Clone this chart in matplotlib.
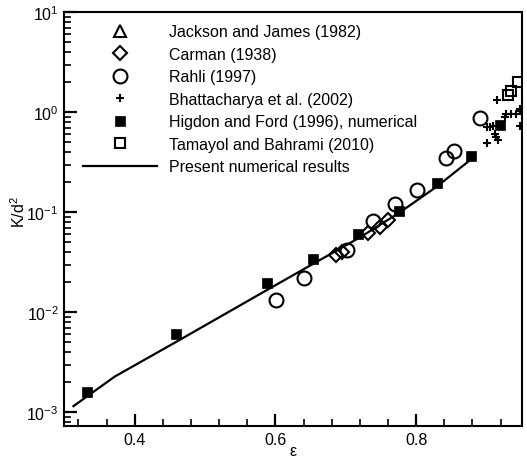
import numpy as np
import matplotlib
matplotlib.use('Agg')
import matplotlib.pyplot as plt
from matplotlib.ticker import LogLocator, MultipleLocator, NullFormatter

plt.rcParams['font.family'] = ['Liberation Sans', 'DejaVu Sans']
plt.rcParams['mathtext.fontset'] = 'custom'
plt.rcParams['mathtext.rm'] = 'Liberation Sans'
plt.rcParams['mathtext.it'] = 'Liberation Sans:italic'
plt.rcParams['mathtext.default'] = 'regular'

# Jackson and James (1982) - no visible points
jackson_eps = []
jackson_k = []

# Carman (1938)
carman_eps = [0.686, 0.694, 0.731, 0.748, 0.760]
carman_k = [0.037, 0.040, 0.062, 0.072, 0.083]

# Rahli (1997)
rahli_eps = [0.601, 0.641, 0.702, 0.739, 0.770, 0.801, 0.843, 0.854, 0.891]
rahli_k = [0.0134, 0.0221, 0.042, 0.082, 0.120, 0.168, 0.352, 0.41, 0.88]

# Bhattacharya et al. (2002)
bhat_eps = [0.9154, 0.928, 0.935, 0.9425, 0.948, 0.948, 0.926,
            0.901, 0.905, 0.909, 0.948, 0.9125, 0.914, 0.901, 0.9164]
bhat_k = [1.32, 0.96, 0.96, 0.96, 1.09, 1.03, 0.89,
          0.71, 0.71, 0.73, 0.73, 0.60, 0.56, 0.49, 0.53]

# Higdon and Ford (1996), numerical
higdon_eps = [0.332, 0.459, 0.5885, 0.6535, 0.7177, 0.776, 0.8298, 0.8784, 0.9195]
higdon_k = [0.00161, 0.0060, 0.0195, 0.0337, 0.060, 0.103, 0.198, 0.366, 0.741]

# Tamayol and Bahrami (2010)
tamayol_eps = [0.945, 0.935, 0.931]
tamayol_k = [2.02, 1.62, 1.48]

# Present numerical results
present_eps = [0.313, 0.372, 0.46, 0.59, 0.65, 0.72, 0.776, 0.83, 0.876]
present_k = [0.00115, 0.00228, 0.0051, 0.0170, 0.0295, 0.056, 0.099, 0.182, 0.33]

fig = plt.figure(figsize=(5.27, 4.64), dpi=100)
ax = fig.add_axes([0.122, 0.0787, 0.868, 0.8926])

mew = 1.5
ax.plot(jackson_eps, jackson_k, '^', ms=9, mfc='none', mec='black', mew=mew,
        label='Jackson and James (1982)')
ax.plot(carman_eps, carman_k, 'D', ms=7.5, mfc='none', mec='black', mew=mew,
        label='Carman (1938)')
ax.plot(rahli_eps, rahli_k, 'o', ms=10, mfc='none', mec='black', mew=mew,
        label='Rahli (1997)')
ax.plot(bhat_eps, bhat_k, '+', ms=6, mec='black', mew=mew,
        label='Bhattacharya et al. (2002)')
ax.plot(higdon_eps, higdon_k, 's', ms=7.5, mfc='black', mec='black', mew=0.5,
        label='Higdon and Ford (1996), numerical')
ax.plot(tamayol_eps, tamayol_k, 's', ms=7.5, mfc='none', mec='black', mew=mew,
        label='Tamayol and Bahrami (2010)')
ax.plot(present_eps, present_k, '-', color='black', lw=1.6,
        label='Present numerical results')

ax.set_yscale('log')
ax.set_xlim(0.3, 0.95)
ax.set_ylim(7.2e-4, 10)

ax.xaxis.set_major_locator(MultipleLocator(0.2))
ax.xaxis.set_minor_locator(MultipleLocator(0.04))
ax.yaxis.set_major_locator(LogLocator(base=10, numticks=10))
ax.yaxis.set_minor_locator(LogLocator(base=10, subs=np.arange(2, 10), numticks=10))
ax.yaxis.set_minor_formatter(NullFormatter())

for side in ['left', 'bottom', 'top', 'right']:
    ax.spines[side].set_linewidth(1.5)

ax.tick_params(which='both', direction='in', top=False, right=False,
               labelsize=11.5, width=1.2)
ax.tick_params(which='major', length=9, width=1.6)
ax.tick_params(which='minor', length=5)
ax.tick_params(axis='y', which='major', pad=4)
ax.tick_params(axis='x', which='major', pad=4)

ax.set_xlabel('ε', fontsize=11.5, labelpad=-3)
ax.set_ylabel('K/d$^2$', fontsize=11.5)
ax.yaxis.set_label_coords(-0.079, 0.52)

ax.legend(loc='upper left', bbox_to_anchor=(0.041, 0.971), frameon=False,
          fontsize=11.5, handlelength=4.6, handletextpad=0.8,
          labelspacing=0.47, borderpad=0, borderaxespad=0, numpoints=1)

fig.savefig('out.png', dpi=100)
